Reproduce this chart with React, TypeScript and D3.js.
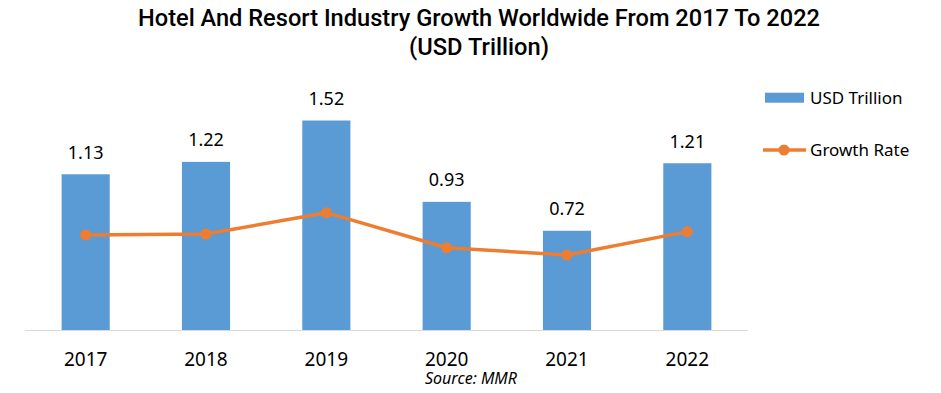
import React from 'react';
import * as d3 from 'd3';

const years = ['2017', '2018', '2019', '2020', '2021', '2022'];
const usdTrillion = [1.13, 1.22, 1.52, 0.93, 0.72, 1.21];
// growth rate (%), secondary axis is hidden in the source
const growthRate = [4.31, 4.35, 5.32, 3.73, 3.4, 4.46];

const W = 941;
const H = 393;
const BAR = '#5B9BD5';
const LINE = '#ED7D31';
const FONT = "'Noto Sans', sans-serif";

export default function App() {
    const x = d3.scaleBand<string>()
        .domain(years)
        .range([25.5, 747.5])
        .paddingInner(0.6)
        .paddingOuter(0.3);

    const y = d3.scaleLinear().domain([0, 1.6]).range([330, 109.5]);
    const y2 = d3.scaleLinear().domain([0, 10]).range([330, 109.5]);

    const cx = (i: number) => (x(years[i]) ?? 0) + x.bandwidth() / 2;

    const line = d3.line<number>()
        .x((_, i) => cx(i))
        .y(d => y2(d));

    return (
        <svg width={W} height={H} style={{ position: 'absolute', left: 0, top: 0, background: '#fff' }}>
            {/* title */}
            <text x={479} y={26} textAnchor="middle" fontFamily="Roboto, sans-serif" fontWeight={500}
                fontSize={24} textLength={682} lengthAdjust="spacingAndGlyphs" fill="#000">
                Hotel And Resort Industry Growth Worldwide From 2017 To 2022
            </text>
            <text x={479} y={55} textAnchor="middle" fontFamily="Roboto, sans-serif" fontWeight={500}
                fontSize={24} textLength={140} lengthAdjust="spacingAndGlyphs" fill="#000">
                (USD Trillion)
            </text>

            {/* bars */}
            {years.map((yr, i) => (
                <rect key={yr} x={x(yr)} y={y(usdTrillion[i])} width={x.bandwidth()}
                    height={y(0) - y(usdTrillion[i])} fill={BAR} />
            ))}

            {/* baseline */}
            <line x1={25} x2={748} y1={y(0) + 0.5} y2={y(0) + 0.5} stroke="#d9d9d9" strokeWidth={1} />

            {/* value labels */}
            {years.map((yr, i) => (
                <text key={yr} x={cx(i)} y={y(usdTrillion[i]) - 15.5}
                    textAnchor="middle" fontFamily={FONT} fontSize={18} fill="#000">
                    {usdTrillion[i].toFixed(2)}
                </text>
            ))}

            {/* growth line */}
            <path d={line(growthRate) ?? ''} fill="none" stroke={LINE} strokeWidth={3.5} strokeLinejoin="round" />
            {growthRate.map((g, i) => (
                <circle key={i} cx={cx(i)} cy={y2(g)} r={5.5} fill={LINE} />
            ))}

            {/* x axis labels */}
            {years.map((yr, i) => (
                <text key={yr} x={cx(i)} y={366}
                    textAnchor="middle" fontFamily={FONT} fontSize={19} fill="#000">
                    {yr}
                </text>
            ))}

            {/* source */}
            <text x={471} y={384} textAnchor="middle" fontFamily={FONT} fontStyle="italic" fontSize={16} fill="#000">
                Source: MMR
            </text>

            {/* legend */}
            <rect x={765} y={92.7} width={39} height={10} fill={BAR} />
            <text x={810} y={104} fontFamily={FONT} fontSize={17} fill="#000">USD Trillion</text>
            <line x1={763} x2={806} y1={150} y2={150} stroke={LINE} strokeWidth={3.5} />
            <circle cx={784} cy={150} r={5.5} fill={LINE} />
            <text x={810} y={156} fontFamily={FONT} fontSize={17} fill="#000">Growth Rate</text>
        </svg>
    );
}
